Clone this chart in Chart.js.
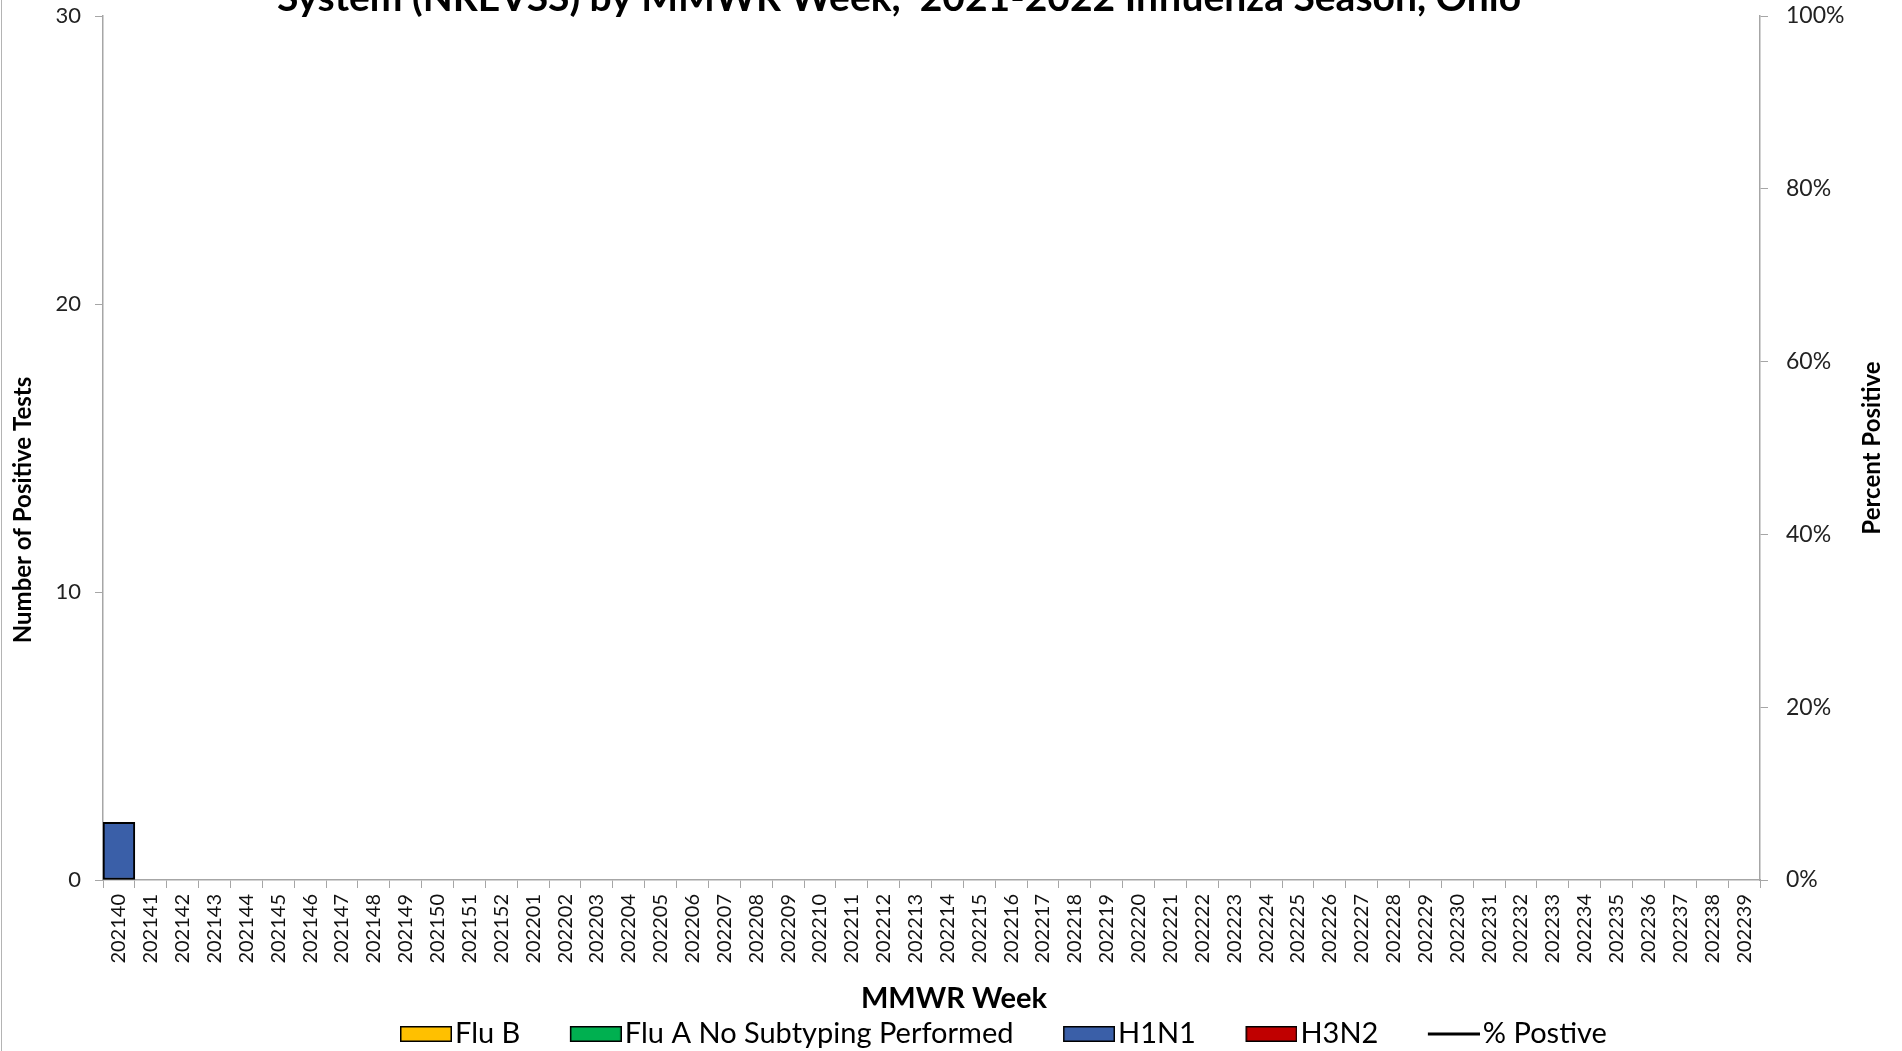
<!DOCTYPE html>
<html><head><meta charset="utf-8">
<script src="https://cdn.jsdelivr.net/npm/chart.js@4.4.1/dist/chart.umd.min.js"></script>
<style>
html,body{margin:0;padding:0;background:#fff;}
#wrap{position:relative;width:1902px;height:1051px;overflow:hidden;background:#fff;}
#c{position:absolute;left:0;top:-62px;width:1902px;height:1134px;}
#edge{position:absolute;left:1px;top:0;width:1px;height:1051px;background:#b4b4b4;}
</style></head><body>
<div id="wrap"><canvas id="c" width="1902" height="1134"></canvas><div id="edge"></div></div>
<script>
const titleLines = ['Number of Positive Influenza Tests Reported to the National Respiratory and Enteric Virus Surveillance',
                    'System (NREVSS) by MMWR Week,  2021-2022 Influenza Season, Ohio'];
const weeks = ['202140','202141','202142','202143','202144','202145','202146','202147','202148','202149','202150','202151','202152',
  '202201','202202','202203','202204','202205','202206','202207','202208','202209','202210','202211','202212','202213','202214',
  '202215','202216','202217','202218','202219','202220','202221','202222','202223','202224','202225','202226','202227','202228',
  '202229','202230','202231','202232','202233','202234','202235','202236','202237','202238','202239'];
const fluB = [0,0,0,0,0,0,0,0,0,0,0,0,0,0,0,0,0,0,0,0,0,0,0,0,0,0,0,0,0,0,0,0,0,0,0,0,0,0,0,0,0,0,0,0,0,0,0,0,0,0,0,0];
const fluANoSubtype = [0,0,0,0,0,0,0,0,0,0,0,0,0,0,0,0,0,0,0,0,0,0,0,0,0,0,0,0,0,0,0,0,0,0,0,0,0,0,0,0,0,0,0,0,0,0,0,0,0,0,0,0];
const h1n1 = [2,0,0,0,0,0,0,0,0,0,0,0,0,0,0,0,0,0,0,0,0,0,0,0,0,0,0,0,0,0,0,0,0,0,0,0,0,0,0,0,0,0,0,0,0,0,0,0,0,0,0,0];
const h3n2 = [0,0,0,0,0,0,0,0,0,0,0,0,0,0,0,0,0,0,0,0,0,0,0,0,0,0,0,0,0,0,0,0,0,0,0,0,0,0,0,0,0,0,0,0,0,0,0,0,0,0,0,0];
const pctPositive = [null,null,null,null,null,null,null,null,null,null,null,null,null,null,null,null,null,null,null,null,null,null,null,null,null,null,
  null,null,null,null,null,null,null,null,null,null,null,null,null,null,null,null,null,null,null,null,null,null,null,null,null,null];
const leftTicks = [0, 10, 20, 30];
const rightTicks = [0, 20, 40, 60, 80, 100];

const T = 62;
const AX = '#a6a6a6';
Chart.defaults.font.family = 'Lato';
Chart.defaults.color = '#1a1a1a';

function barDs(label, data, color) {
  return {type: 'bar', label, data, legendColor: color,
          backgroundColor: ctx => (ctx.raw ? color : 'rgba(0,0,0,0)'),
          borderColor: '#000', borderWidth: ctx => (ctx.raw ? 2 : 0),
          borderSkipped: false, barPercentage: 1, categoryPercentage: 1, yAxisID: 'y', stack: 's', order: 2};
}

const LEG_FS = 29, LEG_PAD = 38, SW = 52, SH = 16;
const SHIFT = LEG_FS / 2 - 3;            // pull text closer to the swatch
function swatch(color, isLine) {
  const W = Math.round(2 * (SHIFT + SW / 2)), H = SH + 4;
  const cv = document.createElement('canvas');
  cv.width = W; cv.height = H;
  const g = cv.getContext('2d');
  const x0 = W - SW;
  if (isLine) {
    g.strokeStyle = '#000'; g.lineWidth = 3;
    g.beginPath(); g.moveTo(x0, H / 2); g.lineTo(W, H / 2); g.stroke();
  } else {
    g.fillStyle = color; g.fillRect(x0 + 0.75, 2.75, SW - 1.5, SH - 1.5);
    g.strokeStyle = '#000'; g.lineWidth = 1.5; g.strokeRect(x0 + 0.75, 2.75, SW - 1.5, SH - 1.5);
  }
  return cv;
}

const fixer = {
  id: 'fixer',
  afterLayout(chart) {
    const lg = chart.legend;
    lg.left = 400 - LEG_PAD - SHIFT; lg.right = 1902;
    lg.top = 1034 + T - LEG_PAD - LEG_FS / 2; lg.bottom = lg.top + 200; lg.height = 200;
    const tb = chart.titleBlock;
    tb.left -= 52; tb.right -= 52;
  },
  afterDraw(chart) {
    const c = chart.ctx;
    c.save();
    c.fillStyle = '#000';
    c.textAlign = 'center'; c.textBaseline = 'middle';
    c.font = 'bold 24px Lato';
    c.save(); c.translate(23, 510 + T); c.rotate(-Math.PI / 2); c.fillText('Number of Positive Tests', 0, 0); c.restore();
    c.save(); c.translate(1872, 448 + T); c.rotate(-Math.PI / 2); c.fillText('Percent Positive', 0, 0); c.restore();
    c.font = 'bold 29px Lato';
    c.fillText('MMWR Week', 954, 999 + T);
    c.restore();
  }
};

new Chart(document.getElementById('c'), {
  data: {
    labels: weeks,
    datasets: [
      barDs('Flu B', fluB, '#FFC000'),
      barDs('Flu A No Subtyping Performed', fluANoSubtype, '#00B050'),
      barDs('H1N1', h1n1, '#3A5FA8'),
      barDs('H3N2', h3n2, '#C00000'),
      {type: 'line', label: '% Postive', data: pctPositive, yAxisID: 'y1', borderColor: '#000', backgroundColor: '#000',
       borderWidth: 3, pointRadius: 0, order: 1, spanGaps: false}
    ]
  },
  options: {
    responsive: false, animation: false, devicePixelRatio: 1,
    layout: {padding: 0},
    plugins: {
      title: {display: true, text: titleLines, font: {size: 39, weight: 'bold', lineHeight: 1}, color: '#000',
              padding: {top: 1.5, bottom: -1.5}},
      legend: {position: 'bottom', align: 'start', maxHeight: 60,
        labels: {usePointStyle: true, pointStyleWidth: SW, boxHeight: SH, padding: LEG_PAD, color: '#000',
          font: {size: LEG_FS},
          sort: (a, b) => a.datasetIndex - b.datasetIndex,
          generateLabels(chart) {
            const items = Chart.defaults.plugins.legend.labels.generateLabels(chart);
            items.forEach(it => {
              const ds = chart.data.datasets[it.datasetIndex];
              it.pointStyle = swatch(ds.legendColor, ds.type === 'line');
            });
            return items;
          }}},
      tooltip: {enabled: false}
    },
    scales: {
      x: {stacked: true, offset: true, z: 1,
        grid: {drawOnChartArea: false, offset: true, color: AX, tickLength: 8, tickColor: AX},
        border: {color: AX, width: 1.5},
        ticks: {autoSkip: false, minRotation: 90, maxRotation: 90, padding: 6, font: {size: 20}, color: '#111'},
        afterFit(s) { s.height = 132; }
      },
      y: {stacked: true, position: 'left', min: 0, max: 30,
        grid: {drawOnChartArea: false, color: AX, tickLength: 8, tickColor: AX},
        border: {color: AX, width: 1.5},
        afterBuildTicks(s) { s.ticks = leftTicks.map(v => ({value: v})); },
        ticks: {padding: 14, font: {size: 22}, color: '#222'},
        afterFit(s) { s.width = 103; }
      },
      y1: {position: 'right', min: 0, max: 100,
        grid: {drawOnChartArea: false, color: AX, tickLength: 8, tickColor: AX},
        border: {color: AX, width: 1.5},
        afterBuildTicks(s) { s.ticks = rightTicks.map(v => ({value: v})); },
        ticks: {padding: 18, font: {size: 23}, color: '#222', callback: v => v + '%'},
        afterFit(s) { s.width = 142; }
      }
    }
  },
  plugins: [fixer]
});
</script>
</body></html>
